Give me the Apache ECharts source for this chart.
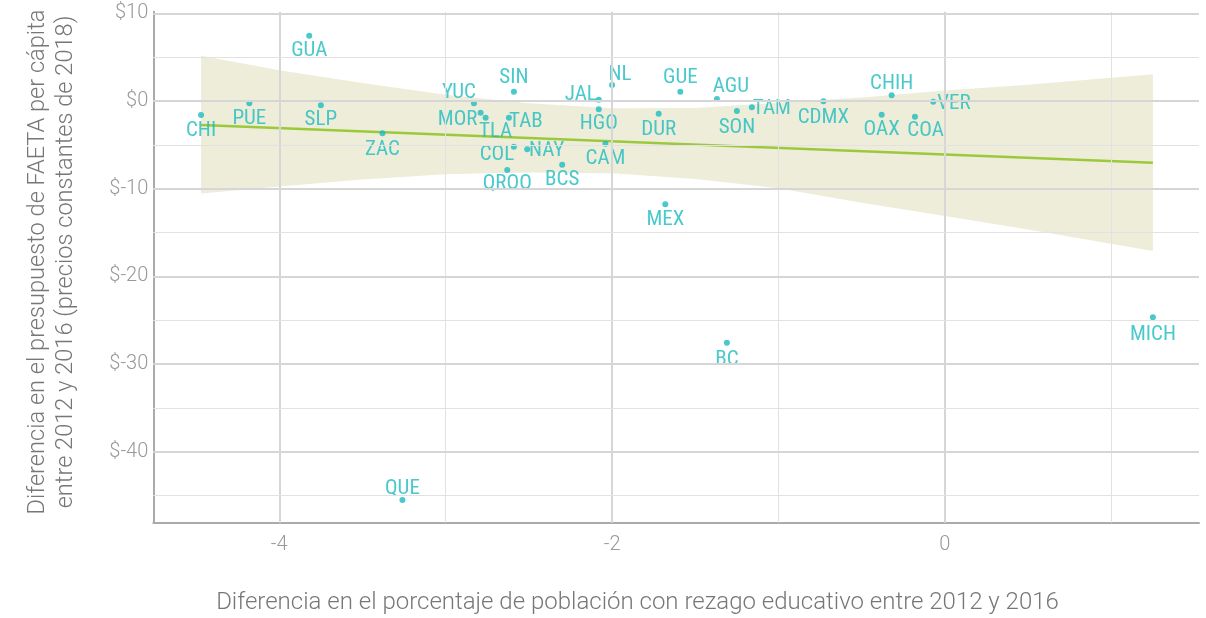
<!DOCTYPE html>
<html>
<head>
<meta charset="utf-8">
<script src="https://cdn.jsdelivr.net/npm/echarts@6/dist/echarts.min.js"></script>
<style>
  html, body { margin: 0; padding: 0; background: #ffffff; }
  #chart { width: 1206px; height: 618px; }
</style>
</head>
<body>
<div id="chart"></div>
<script>
// Estados
const states = ['CHI', 'PUE', 'GUA', 'SLP', 'ZAC', 'YUC', 'MOR', 'TLA', 'TAB', 'SIN', 'COL', 'NAY',
  'QROO', 'BCS', 'JAL', 'HGO', 'NL', 'CAM', 'GUE', 'DUR', 'MEX', 'AGU', 'SON', 'TAM',
  'CDMX', 'CHIH', 'OAX', 'COA', 'VER', 'BC', 'MICH', 'QUE'];
// Diferencia en el porcentaje de población con rezago educativo (2012-2016)
const rezago = [-4.47, -4.18, -3.82, -3.75, -3.38, -2.83, -2.79, -2.76, -2.62, -2.59, -2.59, -2.51,
  -2.63, -2.30, -2.08, -2.08, -2.00, -2.04, -1.59, -1.72, -1.68, -1.37, -1.25, -1.16,
  -0.73, -0.32, -0.38, -0.18, -0.07, -1.31, 1.25, -3.26];
// Diferencia en el presupuesto FAETA per cápita (pesos de 2018)
const presupuesto = [-1.60, -0.26, 7.45, -0.49, -3.69, -0.26, -1.33, -1.90, -1.90, 1.06, -5.21, -5.51,
  -7.87, -7.26, 0.15, -0.95, 1.82, -4.87, 1.06, -1.45, -11.78, 0.23, -1.14, -0.72,
  -0.03, 0.65, -1.56, -1.79, -0.08, -27.55, -24.67, -45.50];

// Recta de tendencia (extremos) y banda de confianza
const fitX = [-4.47, 1.25];
const fitY = [-2.74, -7.03];
const bandX = [-4.47, -4.0, -3.5, -3.0, -2.5, -2.0, -1.5, -1.0, -0.5, 0.0, 0.5, 1.25];
const bandUpper = [5.15, 3.5, 2.05, 0.7, -0.25, -0.83, -0.8, -0.2, 0.4, 1.2, 1.85, 3.04];
const bandLower = [-10.55, -9.75, -8.95, -8.35, -8.15, -8.25, -8.9, -9.95, -11.6, -13.1, -14.65, -17.1];

// Etiquetas de los ejes
const xTickValues = [-4, -2, 0];
const yTickValues = [10, 0, -10, -20, -30, -40];
const xGridMajor = [-4, -2, 0];
const xGridMinor = [-3, -1, 1];
const yGridMajor = [10, 0, -10, -20, -30, -40];
const yGridMinor = [5, -5, -15, -25, -35, -45];

// Posición de cada etiqueta respecto a su punto (px)
const labelOffsets = {
  CHI: [0, 14.5], PUE: [0, 14], GUA: [0, 14], SLP: [0, 13], ZAC: [0, 15],
  YUC: [-15, -12], MOR: [-23, 6], TLA: [10, 12.6], TAB: [17, 2.6], SIN: [0, -15],
  COL: [-17, 6.6], NAY: [19.4, 0], QROO: [0, 12.5], BCS: [0, 13.6], JAL: [-18, -6],
  HGO: [0, 13.2], NL: [8, -11.3], CAM: [0, 13.5], GUE: [0, -15], DUR: [0, 14.3],
  MEX: [0, 14], AGU: [14, -13.7], SON: [0, 14.8], TAM: [20, 0], CDMX: [0, 14.5],
  CHIH: [0, -13.3], OAX: [0, 13.7], COA: [10.6, 12.8], VER: [20.6, 1], BC: [0, 16],
  MICH: [0, 15.6], QUE: [0, -13.3]
};
const labelBaselineShift = 1.5;

const teal = '#1cbcbf';
const labelFont = "'Liberation Sans Narrow', 'Roboto Condensed', 'DejaVu Sans Condensed', sans-serif";
const axisFont = "Roboto, 'Liberation Sans', sans-serif";

const gridLines = [];
xGridMajor.forEach(v => gridLines.push({ xAxis: v, lineStyle: { color: '#d6d6d6', width: 2, type: 'solid' } }));
xGridMinor.forEach(v => gridLines.push({ xAxis: v, lineStyle: { color: '#e2e2e2', width: 1, type: 'solid' } }));
yGridMajor.forEach(v => gridLines.push({ yAxis: v, lineStyle: { color: '#d6d6d6', width: 2, type: 'solid' } }));
yGridMinor.forEach(v => gridLines.push({ yAxis: v, lineStyle: { color: '#e2e2e2', width: 1, type: 'solid' } }));

const points = states.map((s, i) => ({
  value: [rezago[i], presupuesto[i]],
  name: s,
  label: { offset: [labelOffsets[s][0], labelOffsets[s][1] + labelBaselineShift] }
}));

const bandOutline = bandX.map((x, i) => [x, bandUpper[i]])
  .concat(bandX.map((x, i) => [x, bandLower[i]]).reverse());
const fitData = fitX.map((x, i) => [x, fitY[i]]);

const chart = echarts.init(document.getElementById('chart'), null, { renderer: 'canvas' });
chart.setOption({
  animation: false,
  backgroundColor: '#ffffff',
  grid: { left: 153.3, right: 7, top: 11.7, bottom: 95.3, containLabel: false },
  xAxis: {
    type: 'value',
    min: -4.757, max: 1.527,
    splitLine: { show: false },
    axisTick: { show: false },
    axisLine: { show: true, onZero: false, lineStyle: { color: '#aaaaaa', width: 2 } },
    axisLabel: {
      customValues: xTickValues,
      formatter: v => String(v),
      color: '#999999', fontSize: 20, fontFamily: axisFont, fontWeight: 300, margin: 12
    }
  },
  yAxis: {
    type: 'value',
    min: -48.08, max: 10.18,
    splitLine: { show: false },
    axisTick: { show: false },
    axisLine: { show: true, onZero: false, lineStyle: { color: '#aaaaaa', width: 2 } },
    axisLabel: {
      customValues: yTickValues,
      formatter: v => '$' + v,
      color: '#999999', fontSize: 20, fontFamily: axisFont, fontWeight: 300, margin: 5
    }
  },
  graphic: [
    {
      type: 'text', x: 637.5, y: 603,
      style: {
        text: 'Diferencia en el porcentaje de población con rezago educativo entre 2012 y 2016',
        align: 'center', verticalAlign: 'middle',
        fill: '#777777', font: "300 24px Roboto, 'Liberation Sans', sans-serif"
      }
    },
    {
      type: 'text', x: 52, y: 262, rotation: Math.PI / 2,
      style: {
        text: 'Diferencia en el presupuesto de FAETA per cápita\nentre 2012 y 2016 (precios constantes de 2018)',
        align: 'center', verticalAlign: 'middle', lineHeight: 28,
        fill: '#777777', font: "300 23.6px Roboto, 'Liberation Sans', sans-serif"
      }
    }
  ],
  series: [
    {
      // Rejilla
      type: 'line', data: [], z: 0, silent: true,
      markLine: { silent: true, symbol: ['none', 'none'], label: { show: false }, animation: false, data: gridLines }
    },
    {
      // Banda de confianza
      type: 'custom', z: 1, silent: true,
      data: [0],
      renderItem: (params, api) => ({
        type: 'polygon',
        shape: { points: bandOutline.map(p => api.coord(p)) },
        style: { fill: 'rgba(206,204,150,0.35)' }
      })
    },
    {
      // Recta de tendencia
      type: 'line', z: 2, silent: true, data: fitData, showSymbol: false,
      lineStyle: { color: '#9cc93b', width: 2.5 }
    },
    {
      type: 'scatter', z: 3, data: points, symbolSize: 6,
      itemStyle: { color: teal },
      label: {
        show: true, position: 'inside', formatter: p => p.name,
        color: teal, fontSize: 21, fontFamily: labelFont,
        align: 'center', verticalAlign: 'middle'
      }
    }
  ]
});
</script>
</body>
</html>
